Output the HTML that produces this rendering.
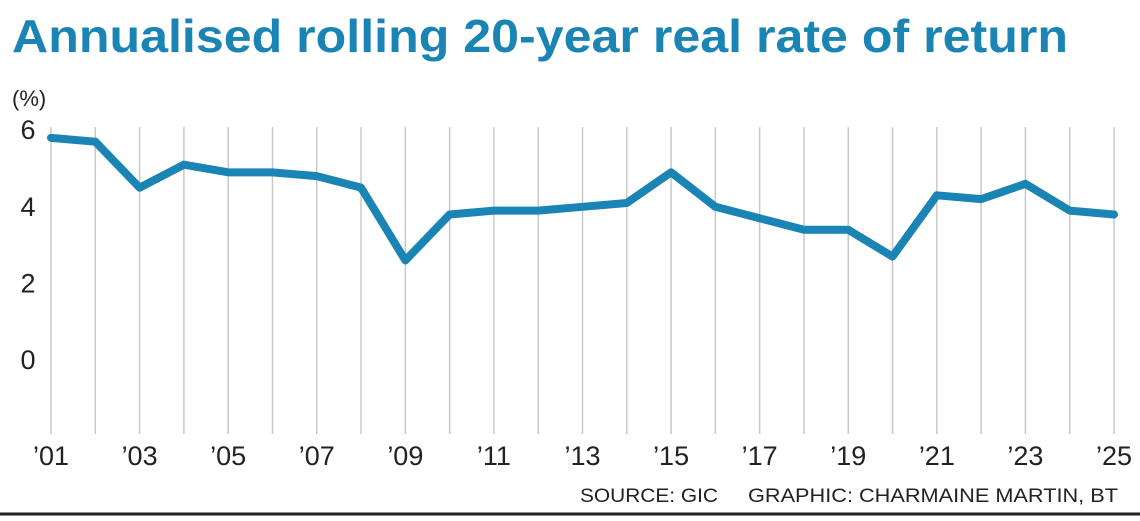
<!DOCTYPE html>
<html><head><meta charset="utf-8"><style>
body{margin:0;width:1140px;height:516px;background:#fff;overflow:hidden;font-family:"Liberation Sans",sans-serif}
</style></head><body>
<svg width="1140" height="516" viewBox="0 0 1140 516">
<text x="12" y="52" font-size="46" font-weight="bold" fill="#1a84b4" textLength="1056" lengthAdjust="spacingAndGlyphs">Annualised rolling 20-year real rate of return</text>
<text x="12" y="106" font-size="22" fill="#222">(%)</text>
<g id="grid"></g><g id="yt"></g><g id="xt"></g>
<path id="line" fill="none" stroke="#1a84b4" stroke-width="8" stroke-linejoin="round" stroke-linecap="round"/>
<text x="580" y="502" font-size="19" fill="#222" textLength="138" lengthAdjust="spacingAndGlyphs">SOURCE: GIC</text>
<text x="748" y="502" font-size="19" fill="#222" textLength="370" lengthAdjust="spacingAndGlyphs">GRAPHIC: CHARMAINE MARTIN, BT</text>
<line x1="0" y1="514" x2="1140" y2="514" stroke="#222" stroke-width="3"/>
</svg>
<script>
const years=["’01","’02","’03","’04","’05","’06","’07","’08","’09","’10","’11","’12","’13","’14","’15","’16","’17","’18","’19","’20","’21","’22","’23","’24","’25"];
const values=[5.8,5.7,4.5,5.1,4.9,4.9,4.8,4.5,2.6,3.8,3.9,3.9,4.0,4.1,4.9,4.0,3.7,3.4,3.4,2.7,4.3,4.2,4.6,3.9,3.8];
const yTicks=[6,4,2,0];
const NS="http://www.w3.org/2000/svg";
const x=i=>51+i*(1114-51)/(years.length-1);
const y=v=>360-v*38.3;
const grid=document.getElementById('grid'),yt=document.getElementById('yt'),xt=document.getElementById('xt');
years.forEach((yr,i)=>{
 const l=document.createElementNS(NS,'line');
 l.setAttribute('x1',x(i));l.setAttribute('x2',x(i));l.setAttribute('y1',127);l.setAttribute('y2',434);
 l.setAttribute('stroke','#c8c8c8');l.setAttribute('stroke-width','1.5');
 
 
 grid.appendChild(l);
 if(i%2===0){
  const t=document.createElementNS(NS,'text');
  t.setAttribute('x',x(i));t.setAttribute('y',465);t.setAttribute('font-size','27');t.setAttribute('fill','#222');t.setAttribute('text-anchor','middle');
  t.textContent=yr;
  
  
  xt.appendChild(t);
 }
});
yTicks.forEach(v=>{
 const t=document.createElementNS(NS,'text');
 t.setAttribute('x',28);t.setAttribute('y',y(v)+9);t.setAttribute('font-size','27');t.setAttribute('fill','#222');t.setAttribute('text-anchor','middle');
 t.textContent=v;
 
 
 yt.appendChild(t);
});
document.getElementById('line').setAttribute('d',values.map((v,i)=>(i?'L':'M')+x(i)+','+y(v)).join(' '));
</script>
</body></html>
